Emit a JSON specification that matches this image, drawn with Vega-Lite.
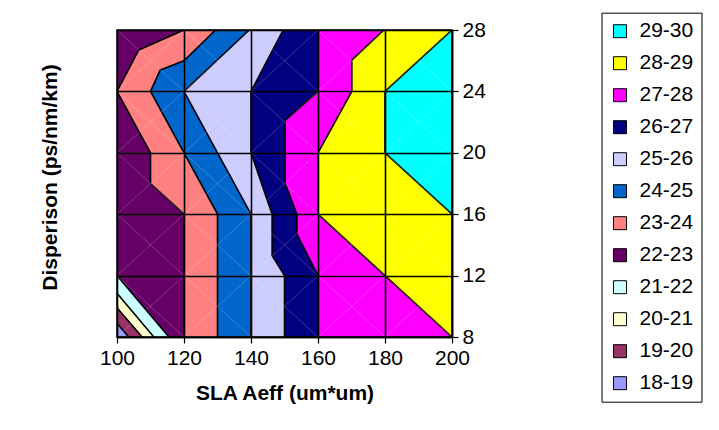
{
  "$schema": "https://vega.github.io/schema/vega-lite/v6.json",
  "width": 335,
  "height": 307,
  "autosize": "none",
  "padding": {"left": 117, "top": 30, "right": 267, "bottom": 93},
  "background": "white",
  "config": {
    "font": "Liberation Sans",
    "view": {"stroke": "black", "strokeWidth": 1.5}
  },
  "datasets": {
    "poly": [
      {"p": 0, "band": "18-19", "i": 0, "x": 100, "y": 28},
      {"p": 0, "band": "18-19", "i": 1, "x": 200, "y": 28},
      {"p": 0, "band": "18-19", "i": 2, "x": 200, "y": 8},
      {"p": 0, "band": "18-19", "i": 3, "x": 100, "y": 8},
      {"p": 0, "band": "18-19", "i": 4, "x": 100, "y": 28},

      {"p": 1, "band": "19-20", "i": 0, "x": 100, "y": 28},
      {"p": 1, "band": "19-20", "i": 1, "x": 200, "y": 28},
      {"p": 1, "band": "19-20", "i": 2, "x": 200, "y": 8},
      {"p": 1, "band": "19-20", "i": 3, "x": 103.5, "y": 8},
      {"p": 1, "band": "19-20", "i": 4, "x": 100, "y": 8.9},
      {"p": 1, "band": "19-20", "i": 5, "x": 100, "y": 28},

      {"p": 2, "band": "20-21", "i": 0, "x": 100, "y": 28},
      {"p": 2, "band": "20-21", "i": 1, "x": 200, "y": 28},
      {"p": 2, "band": "20-21", "i": 2, "x": 200, "y": 8},
      {"p": 2, "band": "20-21", "i": 3, "x": 107.5, "y": 8},
      {"p": 2, "band": "20-21", "i": 4, "x": 100, "y": 9.9},
      {"p": 2, "band": "20-21", "i": 5, "x": 100, "y": 28},

      {"p": 3, "band": "21-22", "i": 0, "x": 100, "y": 28},
      {"p": 3, "band": "21-22", "i": 1, "x": 200, "y": 28},
      {"p": 3, "band": "21-22", "i": 2, "x": 200, "y": 8},
      {"p": 3, "band": "21-22", "i": 3, "x": 111, "y": 8},
      {"p": 3, "band": "21-22", "i": 4, "x": 100, "y": 10.85},
      {"p": 3, "band": "21-22", "i": 5, "x": 100, "y": 28},

      {"p": 4, "band": "22-23", "i": 0, "x": 100, "y": 28},
      {"p": 4, "band": "22-23", "i": 1, "x": 200, "y": 28},
      {"p": 4, "band": "22-23", "i": 2, "x": 200, "y": 8},
      {"p": 4, "band": "22-23", "i": 3, "x": 115.5, "y": 8},
      {"p": 4, "band": "22-23", "i": 4, "x": 100, "y": 12},
      {"p": 4, "band": "22-23", "i": 5, "x": 100, "y": 28},

      {"p": 5, "band": "23-24", "i": 0, "x": 120, "y": 28},
      {"p": 5, "band": "23-24", "i": 1, "x": 200, "y": 28},
      {"p": 5, "band": "23-24", "i": 2, "x": 200, "y": 8},
      {"p": 5, "band": "23-24", "i": 3, "x": 120, "y": 8},
      {"p": 5, "band": "23-24", "i": 4, "x": 120, "y": 16},
      {"p": 5, "band": "23-24", "i": 5, "x": 110, "y": 18},
      {"p": 5, "band": "23-24", "i": 6, "x": 110, "y": 20},
      {"p": 5, "band": "23-24", "i": 7, "x": 100, "y": 24},
      {"p": 5, "band": "23-24", "i": 8, "x": 106.5, "y": 26.7},
      {"p": 5, "band": "23-24", "i": 9, "x": 120, "y": 28},

      {"p": 6, "band": "24-25", "i": 0, "x": 129.4, "y": 28},
      {"p": 6, "band": "24-25", "i": 1, "x": 200, "y": 28},
      {"p": 6, "band": "24-25", "i": 2, "x": 200, "y": 8},
      {"p": 6, "band": "24-25", "i": 3, "x": 130, "y": 8},
      {"p": 6, "band": "24-25", "i": 4, "x": 130, "y": 16},
      {"p": 6, "band": "24-25", "i": 5, "x": 120, "y": 20},
      {"p": 6, "band": "24-25", "i": 6, "x": 110, "y": 24},
      {"p": 6, "band": "24-25", "i": 7, "x": 112.9, "y": 25.4},
      {"p": 6, "band": "24-25", "i": 8, "x": 120, "y": 26},
      {"p": 6, "band": "24-25", "i": 9, "x": 129.4, "y": 28},

      {"p": 7, "band": "25-26", "i": 0, "x": 139.5, "y": 28},
      {"p": 7, "band": "25-26", "i": 1, "x": 200, "y": 28},
      {"p": 7, "band": "25-26", "i": 2, "x": 200, "y": 8},
      {"p": 7, "band": "25-26", "i": 3, "x": 140, "y": 8},
      {"p": 7, "band": "25-26", "i": 4, "x": 140, "y": 16},
      {"p": 7, "band": "25-26", "i": 5, "x": 130, "y": 20},
      {"p": 7, "band": "25-26", "i": 6, "x": 120, "y": 24},
      {"p": 7, "band": "25-26", "i": 7, "x": 139.5, "y": 28},

      {"p": 8, "band": "26-27", "i": 0, "x": 149.6, "y": 28},
      {"p": 8, "band": "26-27", "i": 1, "x": 200, "y": 28},
      {"p": 8, "band": "26-27", "i": 2, "x": 200, "y": 8},
      {"p": 8, "band": "26-27", "i": 3, "x": 150, "y": 8},
      {"p": 8, "band": "26-27", "i": 4, "x": 150, "y": 12},
      {"p": 8, "band": "26-27", "i": 5, "x": 146.3, "y": 13.3},
      {"p": 8, "band": "26-27", "i": 6, "x": 146.3, "y": 16},
      {"p": 8, "band": "26-27", "i": 7, "x": 140, "y": 20},
      {"p": 8, "band": "26-27", "i": 8, "x": 140, "y": 24},
      {"p": 8, "band": "26-27", "i": 9, "x": 149.6, "y": 28},

      {"p": 9, "band": "27-28", "i": 0, "x": 160, "y": 28},
      {"p": 9, "band": "27-28", "i": 1, "x": 200, "y": 28},
      {"p": 9, "band": "27-28", "i": 2, "x": 200, "y": 8},
      {"p": 9, "band": "27-28", "i": 3, "x": 160, "y": 8},
      {"p": 9, "band": "27-28", "i": 4, "x": 160, "y": 12},
      {"p": 9, "band": "27-28", "i": 5, "x": 153.7, "y": 14.7},
      {"p": 9, "band": "27-28", "i": 6, "x": 153.7, "y": 16},
      {"p": 9, "band": "27-28", "i": 7, "x": 150.2, "y": 18},
      {"p": 9, "band": "27-28", "i": 8, "x": 150.2, "y": 22.1},
      {"p": 9, "band": "27-28", "i": 9, "x": 160, "y": 24},
      {"p": 9, "band": "27-28", "i": 10, "x": 160, "y": 28},

      {"p": 10, "band": "28-29", "i": 0, "x": 179.7, "y": 28},
      {"p": 10, "band": "28-29", "i": 1, "x": 200, "y": 28},
      {"p": 10, "band": "28-29", "i": 2, "x": 200, "y": 8},
      {"p": 10, "band": "28-29", "i": 3, "x": 180, "y": 12},
      {"p": 10, "band": "28-29", "i": 4, "x": 160, "y": 16},
      {"p": 10, "band": "28-29", "i": 5, "x": 160, "y": 20},
      {"p": 10, "band": "28-29", "i": 6, "x": 170.1, "y": 24},
      {"p": 10, "band": "28-29", "i": 7, "x": 170.1, "y": 26.04},
      {"p": 10, "band": "28-29", "i": 8, "x": 179.7, "y": 28},

      {"p": 11, "band": "29-30", "i": 0, "x": 200, "y": 28},
      {"p": 11, "band": "29-30", "i": 1, "x": 200, "y": 16},
      {"p": 11, "band": "29-30", "i": 2, "x": 180, "y": 20},
      {"p": 11, "band": "29-30", "i": 3, "x": 180, "y": 24},
      {"p": 11, "band": "29-30", "i": 4, "x": 200, "y": 28}
    ],
    "diag": [
      {"x": 100, "y": 28, "x2": 200, "y2": 8},
      {"x": 100, "y": 24, "x2": 180, "y2": 8},
      {"x": 100, "y": 20, "x2": 160, "y2": 8},
      {"x": 100, "y": 16, "x2": 140, "y2": 8},
      {"x": 100, "y": 12, "x2": 120, "y2": 8},
      {"x": 120, "y": 28, "x2": 200, "y2": 12},
      {"x": 140, "y": 28, "x2": 200, "y2": 16},
      {"x": 160, "y": 28, "x2": 200, "y2": 20},
      {"x": 180, "y": 28, "x2": 200, "y2": 24},
      {"x": 100, "y": 8, "x2": 200, "y2": 28},
      {"x": 100, "y": 12, "x2": 180, "y2": 28},
      {"x": 100, "y": 16, "x2": 160, "y2": 28},
      {"x": 100, "y": 20, "x2": 140, "y2": 28},
      {"x": 100, "y": 24, "x2": 120, "y2": 28},
      {"x": 120, "y": 8, "x2": 200, "y2": 24},
      {"x": 140, "y": 8, "x2": 200, "y2": 20},
      {"x": 160, "y": 8, "x2": 200, "y2": 16},
      {"x": 180, "y": 8, "x2": 200, "y2": 12}
    ]
  },
  "layer": [
    {
      "data": {"name": "poly"},
      "encoding": {
        "x": {
          "field": "x", "type": "quantitative",
          "scale": {"domain": [100, 200], "nice": false, "zero": false},
          "axis": {
            "values": [100, 120, 140, 160, 180, 200],
            "title": "SLA Aeff (um*um)",
            "grid": true, "gridColor": "black", "gridWidth": 1.6, "zindex": 1,
            "domainColor": "black", "domainWidth": 1.5,
            "tickColor": "black", "tickSize": 6, "tickWidth": 1.2,
            "labelFontSize": 21, "labelColor": "black", "labelPadding": 4, "labelFlush": false,
            "titleFontSize": 21, "titleFontWeight": "bold", "titleColor": "black", "titlePadding": 14
          }
        },
        "y": {
          "field": "y", "type": "quantitative",
          "scale": {"domain": [8, 28], "nice": false, "zero": false},
          "axis": {
            "orient": "right",
            "values": [8, 12, 16, 20, 24, 28],
            "title": "Disperison (ps/nm/km)",
            "titleX": -402, "titleY": 147, "titleAngle": 270,
            "titleAlign": "center", "titleBaseline": "middle",
            "grid": true, "gridColor": "black", "gridWidth": 1.6, "zindex": 1,
            "domainColor": "black", "domainWidth": 1.5,
            "tickColor": "black", "tickSize": 6, "tickWidth": 1.2,
            "labelFontSize": 21, "labelColor": "black", "labelPadding": 4, "labelFlush": false,
            "titleFontSize": 21, "titleFontWeight": "bold", "titleColor": "black"
          }
        },
        "order": {"field": "i", "type": "quantitative"},
        "fill": {
          "field": "band", "type": "nominal",
          "scale": {
            "domain": ["29-30", "28-29", "27-28", "26-27", "25-26", "24-25", "23-24", "22-23", "21-22", "20-21", "19-20", "18-19"],
            "range": ["#00FFFF", "#FFFF00", "#FF00FF", "#000080", "#CCCCFF", "#0066CC", "#FF8080", "#660066", "#CCFFFF", "#FFFFCC", "#993366", "#9999FF"]
          },
          "legend": {
            "title": null,
            "orient": "none", "legendX": 484.5, "legendY": -17.3,
            "strokeColor": "black", "padding": 8,
            "symbolType": "square", "symbolSize": 169,
            "symbolStrokeColor": "black", "symbolStrokeWidth": 1,
            "labelFontSize": 21, "labelColor": "black", "labelOffset": 9,
            "rowPadding": 10
          }
        }
      },
      "layer": [
        {"transform": [{"filter": "datum.p == 0"}], "mark": {"type": "line", "stroke": "black", "strokeWidth": 1.6, "strokeJoin": "bevel", "clip": true}},
        {"transform": [{"filter": "datum.p == 1"}], "mark": {"type": "line", "stroke": "black", "strokeWidth": 1.6, "strokeJoin": "bevel", "clip": true}},
        {"transform": [{"filter": "datum.p == 2"}], "mark": {"type": "line", "stroke": "black", "strokeWidth": 1.6, "strokeJoin": "bevel", "clip": true}},
        {"transform": [{"filter": "datum.p == 3"}], "mark": {"type": "line", "stroke": "black", "strokeWidth": 1.6, "strokeJoin": "bevel", "clip": true}},
        {"transform": [{"filter": "datum.p == 4"}], "mark": {"type": "line", "stroke": "black", "strokeWidth": 1.6, "strokeJoin": "bevel", "clip": true}},
        {"transform": [{"filter": "datum.p == 5"}], "mark": {"type": "line", "stroke": "black", "strokeWidth": 1.6, "strokeJoin": "bevel", "clip": true}},
        {"transform": [{"filter": "datum.p == 6"}], "mark": {"type": "line", "stroke": "black", "strokeWidth": 1.6, "strokeJoin": "bevel", "clip": true}},
        {"transform": [{"filter": "datum.p == 7"}], "mark": {"type": "line", "stroke": "black", "strokeWidth": 1.6, "strokeJoin": "bevel", "clip": true}},
        {"transform": [{"filter": "datum.p == 8"}], "mark": {"type": "line", "stroke": "black", "strokeWidth": 1.6, "strokeJoin": "bevel", "clip": true}},
        {"transform": [{"filter": "datum.p == 9"}], "mark": {"type": "line", "stroke": "black", "strokeWidth": 1.6, "strokeJoin": "bevel", "clip": true}},
        {"transform": [{"filter": "datum.p == 10"}], "mark": {"type": "line", "stroke": "black", "strokeWidth": 1.6, "strokeJoin": "bevel", "clip": true}},
        {"transform": [{"filter": "datum.p == 11"}], "mark": {"type": "line", "stroke": "black", "strokeWidth": 1.6, "strokeJoin": "bevel", "clip": true}}
      ]
    },
    {
      "data": {"name": "diag"},
      "mark": {"type": "rule", "color": "white", "strokeWidth": 0.6, "opacity": 0.35, "clip": true},
      "encoding": {
        "x": {"field": "x", "type": "quantitative"},
        "y": {"field": "y", "type": "quantitative"},
        "x2": {"field": "x2"},
        "y2": {"field": "y2"}
      }
    }
  ]
}
